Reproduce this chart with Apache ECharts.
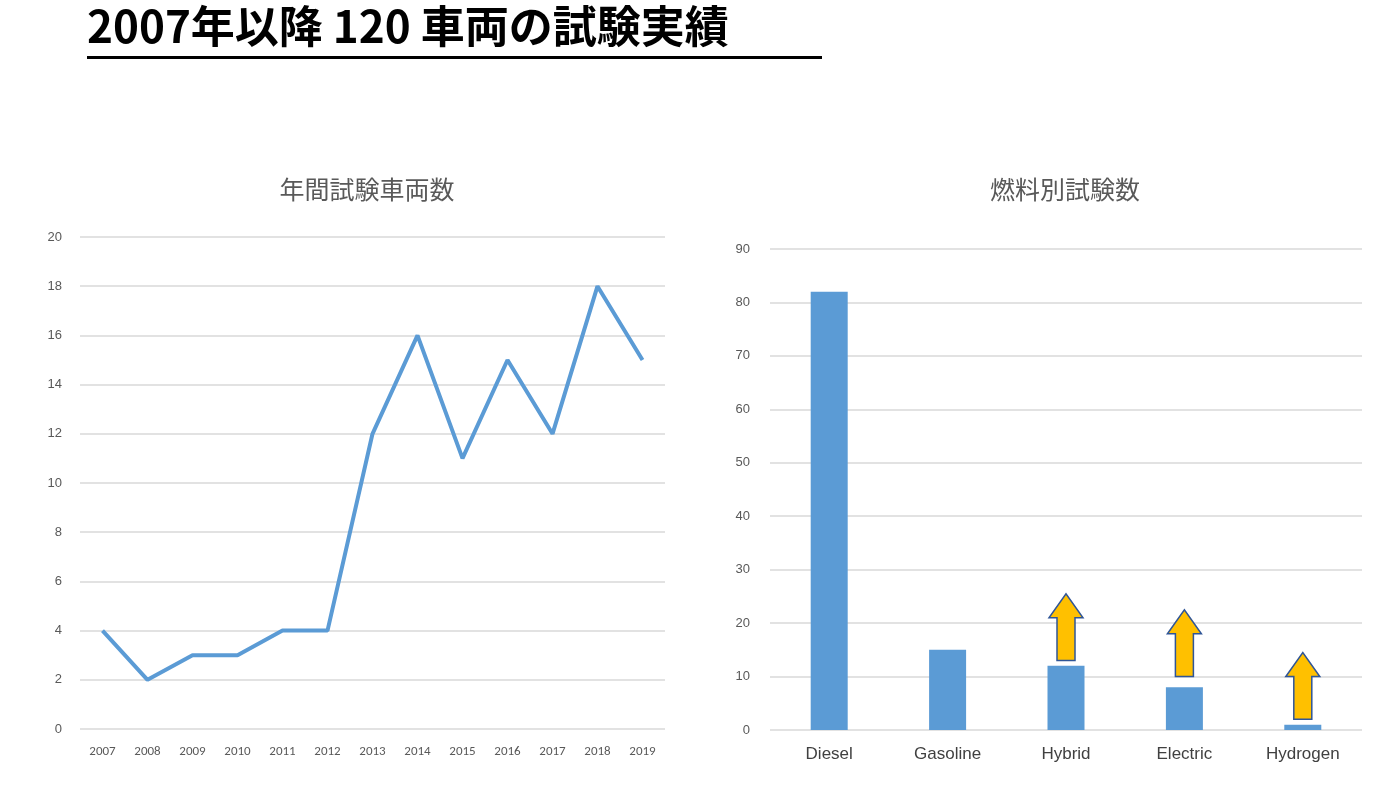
<!DOCTYPE html>
<html>
<head>
<meta charset="UTF-8">
<script src="https://cdn.jsdelivr.net/npm/echarts@6/dist/echarts.min.js"></script>
<style>html,body{margin:0;background:#fff}</style>
</head>
<body>
<div id="main" style="width:1399px;height:786px;"></div>
<script>
var years = ['2007','2008','2009','2010','2011','2012','2013','2014','2015','2016','2017','2018','2019'];
var vehicles = [4, 2, 3, 3, 4, 4, 12, 16, 11, 15, 12, 18, 15];
var fuels = ['Diesel', 'Gasoline', 'Hybrid', 'Electric', 'Hydrogen'];
var fuelTests = [82, 15, 12, 8, 1];
// growth arrows: [fuel, from, to]
var arrows = [['Hybrid', 13, 25.5], ['Electric', 10, 22.5], ['Hydrogen', 2, 14.5]];

var font = '"Noto Sans CJK JP", sans-serif';
var grey = '#595959';
var chart = echarts.init(document.getElementById('main'));
chart.setOption({
  animation: false,
  title: [
    { text: '年間試験車両数', left: 362, top: 172, textAlign: 'center',
      textStyle: { fontFamily: font, fontSize: 25, fontWeight: 'normal', color: grey } },
    { text: '燃料別試験数', left: 1060, top: 172, textAlign: 'center',
      textStyle: { fontFamily: font, fontSize: 25, fontWeight: 'normal', color: grey } }
  ],
  graphic: [
    { type: 'text', left: 87, top: 4, style: { text: '2007年以降 120 車両の試験実績',
      font: 'bold 44px ' + font, fill: '#000' } },
    { type: 'rect', shape: { x: 87, y: 56, width: 735, height: 3 }, style: { fill: '#000' } }
  ],
  grid: [
    { left: 80, top: 237, width: 585, height: 492 },
    { left: 770, top: 249, width: 592, height: 481 }
  ],
  xAxis: [
    { type: 'category', data: years, gridIndex: 0,
      axisLine: { show: false }, axisTick: { show: false },
      axisLabel: { color: grey, fontSize: 13, margin: 16, fontFamily: 'Calibri, Carlito, "Liberation Sans", sans-serif' } },
    { type: 'category', data: fuels, gridIndex: 1,
      axisLine: { show: false }, axisTick: { show: false },
      axisLabel: { color: '#404040', fontSize: 17, margin: 16, fontFamily: '"Liberation Sans", sans-serif' } }
  ],
  yAxis: [
    { type: 'value', min: 0, max: 20, interval: 2, gridIndex: 0,
      axisLabel: { color: grey, fontSize: 13, margin: 18 },
      splitLine: { lineStyle: { color: '#d9d9d9', width: 1.5 } } },
    { type: 'value', min: 0, max: 90, interval: 10, gridIndex: 1,
      axisLabel: { color: grey, fontSize: 13, margin: 20 },
      splitLine: { lineStyle: { color: '#d9d9d9', width: 1.5 } } }
  ],
  series: [
    { type: 'line', data: vehicles, xAxisIndex: 0, yAxisIndex: 0, symbol: 'none',
      lineStyle: { color: '#5B9BD5', width: 4 } },
    { type: 'bar', data: fuelTests, xAxisIndex: 1, yAxisIndex: 1, barWidth: 37,
      itemStyle: { color: '#5B9BD5' } },
    { type: 'custom', xAxisIndex: 1, yAxisIndex: 1, data: arrows, z: 5,
      renderItem: function (params, api) {
        var base = api.coord([api.value(0), api.value(1)]);
        var tip = api.coord([api.value(0), api.value(2)]);
        var x = base[0], hw = 17, sw = 9, headH = 24;
        var pts = [[x - sw, base[1]], [x + sw, base[1]], [x + sw, tip[1] + headH], [x + hw, tip[1] + headH],
                   [x, tip[1]], [x - hw, tip[1] + headH], [x - sw, tip[1] + headH]];
        return { type: 'polygon', shape: { points: pts },
          style: { fill: '#FFC000', stroke: '#2F5597', lineWidth: 1.5 } };
      } }
  ]
});
</script>
</body>
</html>
